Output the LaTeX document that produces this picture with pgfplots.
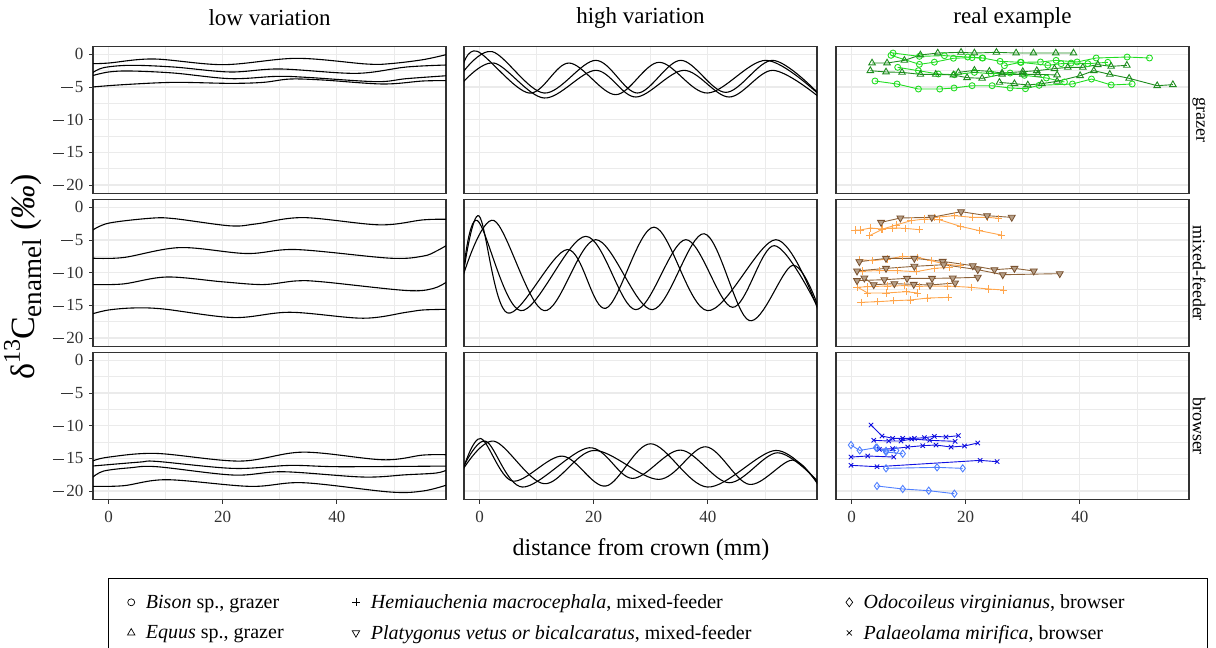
\documentclass[border=0pt]{standalone}
\usepackage{fontspec}
\setmainfont{Liberation Serif}
\usepackage{pgfplots}
\pgfplotsset{compat=1.18}
\definecolor{gridc}{HTML}{EBEBEB}
\definecolor{bordc}{HTML}{333333}
\definecolor{bisonc}{HTML}{22DD22}
\definecolor{equusc}{HTML}{1E8C1E}
\definecolor{hemic}{HTML}{FFA64D}
\definecolor{platyd}{HTML}{7A5230}
\definecolor{platyf}{HTML}{B59F88}
\definecolor{platyl}{HTML}{8C6239}
\definecolor{palaeoc}{HTML}{1010E0}
\definecolor{odoc}{HTML}{5080FF}
\newcommand\fs[1]{\fontsize{#1}{#1}\selectfont}
\newcommand\mn{\rule[0.25em]{0.66em}{0.05em}\hspace{0.14em}}
\pgfplotsset{
  panel/.style={
    scale only axis, width=353pt, height=147pt, anchor=north west,
    xmin=-2.75, xmax=59.15, ymin=-21.3, ymax=1.2,
    xtick={0,20,40}, ytick={-20,-15,-10,-5,0},
    minor xtick={10,30,50}, minor ytick={-17.5,-12.5,-7.5,-2.5},
    grid=both,
    major grid style={gridc, line width=1.1pt},
    minor grid style={gridc, line width=0.55pt},
    axis line style={draw=bordc, line width=1.1pt},
    tick align=outside, major tick length=4pt, minor tick length=0pt,
    xtick pos=bottom, ytick pos=left,
    xticklabels={}, yticklabels={},
    xtick style={draw=none}, ytick style={draw=none},
    tick label style={font=\fs{17}, text=black!80},
    xticklabel style={yshift=-4pt},
    yticklabel style={xshift=-2pt},
    clip=true,
  },
  lefty/.style={yticklabels={\mn20,\mn15,\mn10,\mn5,0}, ytick style={draw=bordc, line width=0.8pt}},
  bottomx/.style={xticklabels={0,20,40}, xtick style={draw=bordc, line width=0.8pt}},
  curve/.style={black, line width=1.1pt, smooth, tension=0.55, mark=none},
  bison/.style={bisonc, line width=0.9pt, mark=o, mark size=3pt, mark options={line width=0.9pt}},
  equus/.style={equusc, line width=0.9pt, mark=triangle, mark size=3.8pt, mark options={line width=0.9pt}},
  hemi/.style={hemic, line width=0.9pt, mark=+, mark size=3.6pt, mark options={line width=0.9pt}},
  platy/.style={platyl, line width=0.9pt, mark=triangle*, mark size=4pt, mark options={rotate=180, draw=platyd, fill=platyf, line width=0.8pt}},
  palaeo/.style={palaeoc, line width=0.9pt, mark=x, mark size=3.1pt, mark options={line width=0.9pt}},
  odo/.style={odoc, line width=0.9pt, mark=diamond, mark size=3.6pt, mark options={line width=0.9pt}},
  myleg/.style={legend image code/.code={\draw[mark repeat=2,mark phase=2,##1] plot coordinates {(0pt,0pt)(8pt,0pt)(23pt,0pt)};}},
}
\begin{document}
\begin{tikzpicture}
\useasboundingbox (0,0) rectangle (1216pt,-648pt);

% ---------- Row 1: grazer ----------
\begin{axis}[panel, lefty, at={(93pt,-46.5pt)}]
\addplot[curve] coordinates {(-2.9,-1.43)(0,-1.33)(7.9,-0.71)(20.1,-1.58)(32.9,-0.61)(45.2,-1.48)(49.3,-1.43)(55.1,-0.82)(59.3,-0.02)};
\addplot[curve] coordinates {(-2.9,-2.86)(-0.9,-2.04)(3.8,-1.68)(11.4,-1.94)(21.3,-2.70)(30.0,-2.24)(43.4,-2.91)(52.2,-1.94)(59.3,-1.63)};
\addplot[curve] coordinates {(-2.9,-3.27)(0,-2.70)(3.8,-2.55)(11.4,-2.86)(21.3,-3.72)(29.5,-3.37)(34.7,-3.52)(46.9,-4.18)(52.2,-3.72)(59.3,-3.27)};
\addplot[curve] coordinates {(-2.9,-5.0)(2.6,-4.64)(11.4,-4.29)(21.3,-4.44)(27.1,-4.29)(31.8,-3.78)(37.6,-3.93)(48.1,-4.54)(55.1,-4.08)(59.3,-4.03)};
\end{axis}
\begin{axis}[panel, at={(464pt,-46.5pt)}]
\addplot[curve] coordinates {(-3.04,-1.94)(-0.41,0.46)(8.65,-5.92)(15.67,-1.33)(23.86,-6.17)(31.46,-1.22)(39.94,-5.92)(50.18,-0.92)(59.3,-6.0)};
\addplot[curve] coordinates {(-3.04,-2.86)(2.22,0.41)(11.29,-5.92)(20.35,-0.92)(27.66,-5.92)(35.26,-0.92)(43.16,-5.82)(51.35,-0.92)(59.3,-5.9)};
\addplot[curve] coordinates {(-3.04,-4.39)(2.51,-1.33)(11.29,-6.68)(20.35,-2.45)(27.37,-6.53)(35.85,-2.45)(43.74,-6.53)(51.35,-2.45)(59.3,-6.4)};
\end{axis}
\begin{axis}[panel, at={(836pt,-46.5pt)}]
% Bison
\addplot[bison] coordinates {(7.25,0.2)(11.87,-0.31)(16.26,-0.2)(20.35,-0.41)(22.98,-0.56)(26.02,-1.07)(29.71,-1.22)(33.1,-1.17)(35.85,-0.92)(39.53,-1.17)(42.87,-0.56)(48.3,-0.41)(52.22,-0.56)};
\addplot[bison] coordinates {(6.9,-0.15)(11.87,-1.53)(14.5,-1.2)(17.84,-0.6)(21.11,-0.5)(22.87,-0.56)};
\addplot[bison] coordinates {(8.07,-1.99)(11.7,-2.5)(15.2,-3.01)(18.01,-3.11)(21.52,-2.76)(24.44,-2.96)(27.78,-2.86)(30.29,-3.21)(34.15,-3.62)(37.31,-4.23)};
\addplot[bison] coordinates {(4.09,-4.08)(7.95,-4.54)(11.7,-5.31)(15.44,-5.31)(17.95,-5.15)(21.11,-4.8)(24.62,-4.8)(27.78,-5.15)(30.47,-5.26)(32.87,-4.74)(38.71,-4.54)(42.05,-3.78)(45.5,-4.69)(49.18,-4.54)};
\addplot[bison] coordinates {(26.78,-1.73)(29.59,-1.22)(34.39,-1.68)(36.73,-1.43)(38.48,-1.33)(41.4,-1.43)(44.91,-1.22)};
% Equus
\addplot[equus] coordinates {(3.57,-1.33)(6.2,-1.33)(9.24,-0.92)(12.05,-0.1)(15.09,0.2)(19.18,0.31)(21.52,0.2)(25.38,0.31)(28.83,0.2)(31.87,0.2)(35.79,0.2)(38.89,0.2)};
\addplot[equus] coordinates {(3.27,-2.5)(6.02,-2.7)(8.83,-2.76)(12.05,-3.06)(14.74,-3.06)(17.84,-3.16)(20.23,-3.57)(22.87,-3.67)(26.37,-3.06)(30.0,-3.06)(32.63,-3.06)(36.02,-3.16)};
\addplot[equus] coordinates {(18.71,-2.76)(21.52,-2.45)(24.15,-2.6)(26.37,-2.86)(30.0,-2.65)(32.46,-2.5)(35.56,-2.19)(37.89,-1.99)(40.53,-1.99)(43.16,-1.58)(45.5,-1.84)(48.25,-1.68)};
\addplot[equus] coordinates {(25.91,-4.29)(28.54,-4.49)(30.88,-4.69)(33.33,-4.49)(36.02,-4.13)(40.06,-3.27)(42.46,-2.5)(45.26,-3.06)(48.65,-3.67)(53.57,-4.8)(56.32,-4.64)};
\end{axis}

% ---------- Row 2: mixed-feeder ----------
\begin{axis}[panel, lefty, at={(93pt,-199.5pt)}]
\addplot[curve] coordinates {(-2.9,-3.54)(0,-2.42)(7.3,-1.67)(11.4,-1.72)(21.3,-2.83)(25.9,-2.53)(34.1,-1.57)(47.5,-2.68)(55.1,-1.92)(59.3,-1.82)};
\addplot[curve] coordinates {(-2.9,-7.78)(2.6,-7.68)(12.5,-6.16)(24.2,-7.07)(32.9,-6.46)(49.3,-7.78)(55.1,-7.47)(57.4,-6.72)(59.3,-5.8)};
\addplot[curve] coordinates {(-2.9,-11.82)(2.6,-11.72)(10.2,-10.66)(20.1,-11.41)(27.1,-11.82)(32.9,-11.26)(37.6,-11.41)(52.2,-12.73)(56.9,-12.42)(59.3,-11.4)};
\addplot[curve] coordinates {(-2.9,-16.31)(0,-15.71)(4.4,-15.40)(9.6,-15.56)(21.9,-16.87)(31.8,-16.06)(44.6,-16.97)(52.2,-16.06)(55.1,-15.71)(59.3,-15.61)};
\end{axis}
\begin{axis}[panel, at={(464pt,-199.5pt)}]
\addplot[curve] coordinates {(-2.92,-10.51)(-0.12,-1.31)(4.85,-16.16)(15.38,-6.46)(22.11,-15.45)(30.58,-3.03)(39.94,-15.81)(51.93,-4.95)(59.3,-15.6)};
\addplot[curve] coordinates {(-2.92,-10.51)(-0.41,-2.02)(7.19,-15.81)(18.6,-4.44)(27.37,-15.66)(36.14,-4.95)(44.33,-15.30)(51.64,-5.86)(59.3,-15.3)};
\addplot[curve] coordinates {(-2.92,-10.51)(2.51,-2.02)(11.29,-15.81)(20.35,-4.95)(30.29,-15.66)(39.36,-4.04)(47.25,-17.32)(54.85,-8.89)(59.3,-15.05)};
\end{axis}
\begin{axis}[panel, at={(836pt,-199.5pt)}]
% Hemiauchenia
\addplot[hemi] coordinates {(0.58,-3.47)(1.52,-3.47)(3.27,-3.16)(5.26,-3.32)(7.19,-3.16)(9.36,-3.21)(11.87,-3.42)};
\addplot[hemi] coordinates {(3.1,-4.34)(5.44,-3.32)(7.78,-2.7)(10.41,-2.04)(12.75,-1.79)(15.38,-1.89)(19.06,-2.91)(22.4,-3.57)(26.2,-4.23)};
\addplot[hemi] coordinates {(14.5,-1.53)(18.01,-1.28)(21.23,-1.53)(23.86,-1.53)(25.79,-1.68)};
\addplot[hemi] coordinates {(1.35,-8.01)(3.68,-8.16)(6.32,-7.91)(8.95,-7.5)(11.58,-7.65)(13.92,-8.16)(16.26,-8.67)(19.06,-8.93)};
\addplot[hemi] coordinates {(1.93,-9.74)(4.85,-9.69)(8.07,-9.69)(11.29,-9.85)(14.5,-9.34)(17.13,-9.18)};
\addplot[hemi] coordinates {(0.94,-12.24)(2.81,-12.14)(6.32,-12.04)(9.24,-11.99)(11.87,-12.09)(16.84,-12.04)(20.94,-12.24)(23.98,-12.5)(26.67,-12.65)};
\addplot[hemi] coordinates {(1.05,-12.24)(2.81,-13.11)(6.02,-13.11)(9.53,-12.91)(11.58,-13.11)};
\addplot[hemi] coordinates {(1.64,-14.54)(4.56,-14.44)(7.37,-14.29)(10.29,-14.18)(13.33,-13.88)(16.96,-13.78)};
% Platygonus
\addplot[platy] coordinates {(5.15,-2.3)(8.54,-1.63)(14.04,-1.53)(19.18,-0.66)(23.74,-1.28)(28.07,-1.53)};
\addplot[platy] coordinates {(1.35,-8.32)(6.02,-7.81)(10.99,-7.81)(15.96,-8.27)(21.23,-8.93)(25.03,-9.54)(28.54,-9.34)(31.93,-9.74)};
\addplot[platy] coordinates {(0.94,-9.74)(6.02,-9.34)(10.99,-9.03)(16.14,-8.78)(22.11,-9.54)(26.49,-10.31)(36.49,-10.15)};
\addplot[platy] coordinates {(0.94,-11.22)(5.73,-11.07)(9.71,-10.87)(14.09,-10.87)(17.72,-10.82)(22.11,-10.71)};
\addplot[platy] coordinates {(2.22,-10.82)(3.86,-11.84)(7.49,-11.68)(10.88,-11.79)(13.74,-11.89)(18.13,-11.58)};
\end{axis}

% ---------- Row 3: browser ----------
\begin{axis}[panel, lefty, bottomx, at={(93pt,-352.5pt)}]
\addplot[curve] coordinates {(-2.9,-15.42)(0,-14.81)(8.4,-14.25)(23.0,-15.42)(34.1,-14.05)(48.1,-15.22)(55.1,-14.5)(59.3,-14.45)};
\addplot[curve] coordinates {(-2.9,-16.18)(5.5,-15.57)(8.45,-15.47)(21.9,-16.54)(31.8,-16.08)(40.5,-16.28)(59.3,-16.18)};
\addplot[curve] coordinates {(-2.9,-17.96)(-0.9,-16.95)(3.8,-16.44)(8.45,-16.28)(21.9,-17.56)(30.6,-17.05)(44.6,-17.86)(52.2,-17.51)(57.4,-17.25)(59.3,-16.79)};
\addplot[curve] coordinates {(-2.9,-19.29)(2.6,-19.19)(10.2,-18.27)(24.8,-19.29)(34.1,-18.73)(49.3,-20.15)(55.1,-20.0)(59.3,-19.08)};
\end{axis}
\begin{axis}[panel, bottomx, at={(464pt,-352.5pt)}]
\addplot[curve] coordinates {(-2.92,-16.69)(0.18,-11.96)(5.73,-18.47)(14.5,-14.66)(22.11,-19.24)(30.0,-12.77)(39.94,-19.39)(51.93,-13.79)(59.3,-18.8)};
\addplot[curve] coordinates {(-2.92,-16.44)(1.05,-12.37)(7.49,-19.39)(19.18,-13.38)(26.78,-18.07)(35.26,-13.74)(43.74,-18.73)(52.22,-14.15)(59.3,-18.5)};
\addplot[curve] coordinates {(-2.92,-16.69)(2.51,-12.37)(11.29,-18.88)(20.06,-13.79)(31.46,-18.22)(39.65,-13.23)(47.25,-18.98)(54.85,-15.27)(59.3,-19.0)};
\end{axis}
\begin{axis}[panel, bottomx, at={(836pt,-352.5pt)}]
% Palaeolama
\addplot[palaeo] coordinates {(3.39,-9.9)(5.32,-11.58)(7.19,-11.94)(8.95,-11.94)(10.99,-11.94)(12.75,-11.84)(14.5,-11.63)(16.55,-11.73)(18.71,-11.53)};
\addplot[palaeo] coordinates {(3.86,-12.24)(6.49,-12.35)(8.65,-12.35)(10.53,-12.04)(13.68,-12.24)(18.13,-12.4)};
\addplot[palaeo] coordinates {(4.85,-13.62)(7.19,-13.52)(9.82,-13.27)(12.46,-13.06)(14.8,-12.96)(17.43,-13.27)(19.77,-13.11)(22.11,-12.65)};
\addplot[palaeo] coordinates {(-0.12,-14.8)(2.81,-14.64)(7.37,-14.8)};
\addplot[palaeo] coordinates {(-0.12,-16.07)(4.44,-16.28)(22.51,-15.31)(25.5,-15.51)};
% Odocoileus
\addplot[odo] coordinates {(-0.12,-12.96)(1.4,-13.78)(4.27,-13.37)(6.02,-14.03)(8.95,-14.29)};
\addplot[odo] coordinates {(4.44,-13.37)(6.02,-13.85)(7.8,-13.8)};
\addplot[odo] coordinates {(6.02,-16.53)(14.97,-16.38)(19.47,-16.53)};
\addplot[odo] coordinates {(4.44,-19.23)(8.95,-19.69)(13.51,-19.95)(18.01,-20.41)};
\end{axis}

% ---------- Legend ----------
\begin{axis}[at={(108pt,-578pt)}, anchor=north west, hide axis, scale only axis,
  width=1097pt, height=60pt, xmin=0, xmax=1, ymin=0, ymax=1,
  legend columns=3,
  legend cell align=left,
  legend style={at={(0,1)}, anchor=north west, draw=black, line width=1pt, fill=white,
    font=\fs{20}, inner xsep=19pt, inner ysep=14pt, row sep=11pt,
    /tikz/every even column/.append style={column sep=0pt}},
]
\addlegendimage{only marks, mark=o, mark size=3.5pt, black, line width=0.7pt, myleg}
\addlegendentry{\hspace{9pt}\makebox[204pt][l]{\textit{Bison} sp., grazer}}
\addlegendimage{only marks, mark=+, mark size=4pt, black, line width=0.7pt, myleg}
\addlegendentry{\hspace{9pt}\makebox[473pt][l]{\textit{Hemiauchenia macrocephala}, mixed-feeder}}
\addlegendimage{only marks, mark=diamond, mark size=4.5pt, black, line width=0.7pt, myleg}
\addlegendentry{\hspace{9pt}\makebox[323pt][l]{\textit{Odocoileus virginianus}, browser}}
\addlegendimage{only marks, mark=triangle, mark size=4.3pt, black, line width=0.7pt, myleg}
\addlegendentry{\hspace{9pt}\makebox[204pt][l]{\textit{Equus} sp., grazer}}
\addlegendimage{only marks, mark=triangle, mark size=4.3pt, black, line width=0.7pt, mark options={rotate=180}, myleg}
\addlegendentry{\hspace{9pt}\makebox[473pt][l]{\textit{Platygonus vetus or bicalcaratus}, mixed-feeder}}
\addlegendimage{only marks, mark=x, mark size=3.6pt, black, line width=0.7pt, myleg}
\addlegendentry{\hspace{9pt}\makebox[323pt][l]{\textit{Palaeolama mirifica}, browser}}
\end{axis}

% ---------- Titles and labels ----------
\node[font=\fs{23}] at (269.5pt,-18pt) {low variation};
\node[font=\fs{23}] at (640.5pt,-18pt) {high variation};
\node[font=\fs{23}] at (1012.5pt,-18pt) {real example};
\node[font=\fs{18}, rotate=-90] at (1199pt,-120pt) {grazer};
\node[font=\fs{18}, rotate=-90] at (1199pt,-273pt) {mixed-feeder};
\node[font=\fs{18}, rotate=-90] at (1199pt,-426pt) {browser};
\node[font=\fs{24}] at (641pt,-550pt) {distance from crown (mm)};
\node[font=\fs{34}, rotate=90] at (23pt,-277pt) {δ\raisebox{0.42em}{\fs{24}13}C\raisebox{-0.22em}{\fs{27}enamel} (\textit{‰})};
\end{tikzpicture}
\end{document}
